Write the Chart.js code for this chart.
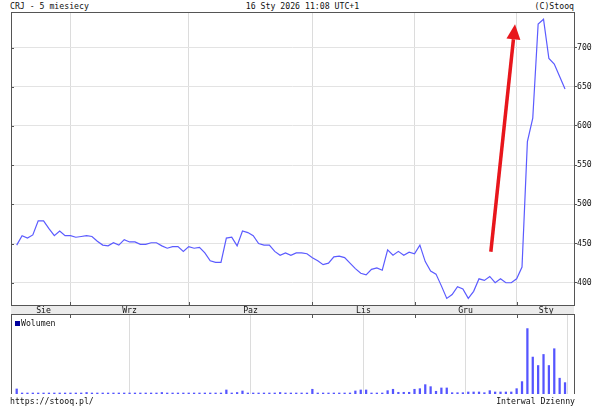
<!DOCTYPE html>
<html>
<head>
<meta charset="utf-8">
<script src="https://cdn.jsdelivr.net/npm/chart.js@4.4.1/dist/chart.umd.min.js"></script>
<style>
body { margin: 0; background: #fff; }
#wrap { position: relative; width: 605px; height: 411px; overflow: hidden; font: 8.2px 'DejaVu Sans Mono', monospace; color: #111; }
.t { position: absolute; line-height: 10px; white-space: nowrap; }
canvas { position: absolute; left: 0; }
.sq { display: inline-block; width: 5px; height: 5px; background: #00009c; margin-right: 1px; }
</style>
</head>
<body>
<div id="wrap">
  <div class="t" style="left:10px;top:1px">CRJ - 5 miesiecy</div>
  <div class="t" style="left:0;width:605px;text-align:center;top:1px">16 Sty 2026 11:08 UTC+1</div>
  <div class="t" style="right:31px;top:1px">(C)Stooq</div>
  <canvas id="cena" width="605" height="315" style="top:0"></canvas>
  <canvas id="wol" width="605" height="80" style="top:314px"></canvas>
  <div class="t" style="left:15px;top:318px"><span class="sq"></span>Wolumen</div>
  <div class="t" style="left:10px;top:396px">https://stooq.pl/</div>
  <div class="t" style="right:30px;top:396px">Interwal Dzienny</div>
</div>
<script>
// kurs zamkniecia, sesje od 18 sie 2025 do 16 sty 2026
const kurs = [
  448, 460, 457, 461, 479, 479, 469, 460, 466, 460,
  460, 458, 459, 460, 459, 453, 448, 447, 451, 448,
  455, 452, 452, 449, 449, 451, 451, 447, 444, 446,
  446, 440, 446, 444, 445, 438, 428, 426, 426, 457,
  458, 447, 466, 464, 460, 450, 448, 448, 440, 435,
  438, 435, 438, 438, 437, 432, 428, 423, 425, 433,
  434, 432, 425, 418, 412, 410, 417, 419, 416, 442,
  435, 440, 435, 439, 437, 448, 427, 415, 411, 396,
  380, 385, 395, 392, 380, 389, 405, 403, 408, 400,
  405, 400, 400, 405, 420, 580, 610, 730, 736, 686,
  679, 663, 647
];
const wolumen = [
  5, 1, 1, 1, 1, 1, 1, 1, 1, 1,
  1, 1, 1, 1.5, 1, 1, 1, 1, 1, 1,
  1, 1, 1, 1, 1, 1, 1, 1.5, 1, 1,
  1, 1, 1, 1, 1, 1, 1, 1, 1, 4,
  1, 1.5, 3, 1, 1, 1, 1, 1, 1, 1.5,
  1, 1, 1, 1, 1, 4.7, 1, 1, 1, 1,
  1, 1, 1, 3, 4, 4, 1, 1, 1, 3.3,
  4.7, 1.7, 1.7, 1.7, 4.7, 5.3, 9.3, 7.3, 2.7, 6,
  6, 1.3, 1.3, 1.3, 2, 2, 2, 1.3, 3.3, 2,
  2, 2, 2, 5.3, 12.3, 65, 36.7, 28.3, 39.3, 28.3,
  45, 15.7, 11.3
];
const poczatkiMies = [10, 32, 55, 74, 93];
const miesiace = ['Sie', 'Wrz', 'Paz', 'Lis', 'Gru', 'Sty'];
const srodkiMies = [5, 21, 43.5, 64.5, 83.5, 98.5];
const osCeny = [400, 450, 500, 550, 600, 650, 700];
const strzalka = [[88.2, 439.5], [92.7, 729.6]];

const xMin = -1.06, xMax = 103.67;
const ciemny = '#555';

Chart.defaults.font.family = "'DejaVu Sans Mono', monospace";
Chart.defaults.font.size = 8.2;
Chart.defaults.color = '#111';

function tickiX(s) {
    const t = poczatkiMies.map(v => ({ value: v, start: true }))
        .concat(srodkiMies.map((v, i) => ({ value: v, name: miesiace[i] })));
    s.ticks = t.sort((a, b) => a.value - b.value);
}

const ramka = {
    id: 'ramka',
    beforeDraw(chart, args, opts) {
        if (!opts.pasek) return;
        const { ctx, chartArea: a } = chart;
        ctx.save();
        ctx.fillStyle = '#ebebeb';
        ctx.fillRect(a.left, a.bottom, a.right - a.left, 10);
        ctx.restore();
    },
    afterDraw(chart, args, opts) {
        const { ctx, chartArea: a, scales } = chart;
        ctx.save();
        ctx.strokeStyle = ciemny;
        ctx.lineWidth = 1;
        ctx.strokeRect(a.left + 0.5, a.top + 0.5, a.right - a.left, a.bottom - a.top);
        // kreski miesiecy do srodka
        ctx.beginPath();
        poczatkiMies.forEach(m => {
            const px = Math.round(scales.x.getPixelForValue(m)) + 0.5;
            if (opts.pasek) { ctx.moveTo(px, a.bottom - 3); ctx.lineTo(px, a.bottom); }
            else { ctx.moveTo(px, a.top); ctx.lineTo(px, a.top + 4); }
        });
        if (opts.pasek) {
            osCeny.forEach(v => {
                const py = Math.round(scales.y.getPixelForValue(v)) + 0.5;
                ctx.moveTo(a.left, py); ctx.lineTo(a.left + 3, py);
            });
            ctx.moveTo(a.left, a.bottom + 9.5); ctx.lineTo(a.right, a.bottom + 9.5);
        }
        ctx.stroke();

        if (opts.pasek) {
            const x0 = scales.x.getPixelForValue(strzalka[0][0]);
            const y0 = scales.y.getPixelForValue(strzalka[0][1]);
            const x1 = scales.x.getPixelForValue(strzalka[1][0]);
            const y1 = scales.y.getPixelForValue(strzalka[1][1]);
            const kat = Math.atan2(y1 - y0, x1 - x0);
            const dl = 15, sz = 7;
            const bx = x1 - dl * Math.cos(kat), by = y1 - dl * Math.sin(kat);
            ctx.strokeStyle = '#e8161c';
            ctx.fillStyle = '#e8161c';
            ctx.lineWidth = 3.5;
            ctx.beginPath();
            ctx.moveTo(x0, y0);
            ctx.lineTo(bx, by);
            ctx.stroke();
            ctx.beginPath();
            ctx.moveTo(x1, y1);
            ctx.lineTo(bx + sz * Math.sin(kat), by - sz * Math.cos(kat));
            ctx.lineTo(bx - sz * Math.sin(kat), by + sz * Math.cos(kat));
            ctx.closePath();
            ctx.fill();
        }
        ctx.restore();
    }
};

new Chart(document.getElementById('cena'), {
    type: 'line',
    data: {
        datasets: [{
            data: kurs.map((v, i) => ({ x: i, y: v })),
            borderColor: '#5b5bff',
            borderWidth: 1.2,
            pointRadius: 0,
            tension: 0
        }]
    },
    options: {
        responsive: false,
        animation: false,
        devicePixelRatio: 1,
        layout: { padding: { left: 11, top: 12, right: 0, bottom: 0 } },
        plugins: { legend: { display: false }, tooltip: { enabled: false }, ramka: { pasek: true } },
        scales: {
            x: {
                type: 'linear',
                min: xMin,
                max: xMax,
                afterBuildTicks: tickiX,
                afterFit: s => { s.height = 10; },
                ticks: {
                    autoSkip: false,
                    maxRotation: 0,
                    padding: 1,
                    callback: (v, i, t) => t[i].name || ''
                },
                grid: {
                    drawTicks: false,
                    color: c => (c.tick && c.tick.start) ? '#dcdcdc' : 'rgba(0,0,0,0)'
                },
                border: { display: true, color: ciemny }
            },
            y: {
                position: 'right',
                min: 371.6,
                max: 745.3,
                afterBuildTicks: s => { s.ticks = osCeny.map(v => ({ value: v })); },
                afterFit: s => { s.width = 31; },
                ticks: { padding: 0, callback: v => String(v) },
                grid: { color: '#e3e3e3', tickLength: 3, tickColor: ciemny },
                border: { display: true, color: ciemny }
            }
        }
    },
    plugins: [ramka]
});

new Chart(document.getElementById('wol'), {
    type: 'bar',
    data: {
        datasets: [{
            data: wolumen.map((v, i) => ({ x: i, y: v })),
            backgroundColor: '#5555ff',
            barThickness: 1.6
        }]
    },
    options: {
        responsive: false,
        animation: false,
        devicePixelRatio: 1,
        layout: { padding: { left: 11, top: 0, right: 31, bottom: 0 } },
        plugins: { legend: { display: false }, tooltip: { enabled: false }, ramka: { pasek: false } },
        scales: {
            x: {
                type: 'linear',
                min: xMin,
                max: xMax,
                offset: false,
                afterBuildTicks: s => { s.ticks = poczatkiMies.map(v => ({ value: v, start: true })); },
                afterFit: s => { s.height = 0; },
                ticks: { display: false },
                grid: { drawTicks: false, color: '#dcdcdc' },
                border: { display: true, color: ciemny }
            },
            y: {
                display: false,
                min: 0,
                max: 79.5
            }
        }
    },
    plugins: [ramka]
});
</script>
</body>
</html>
